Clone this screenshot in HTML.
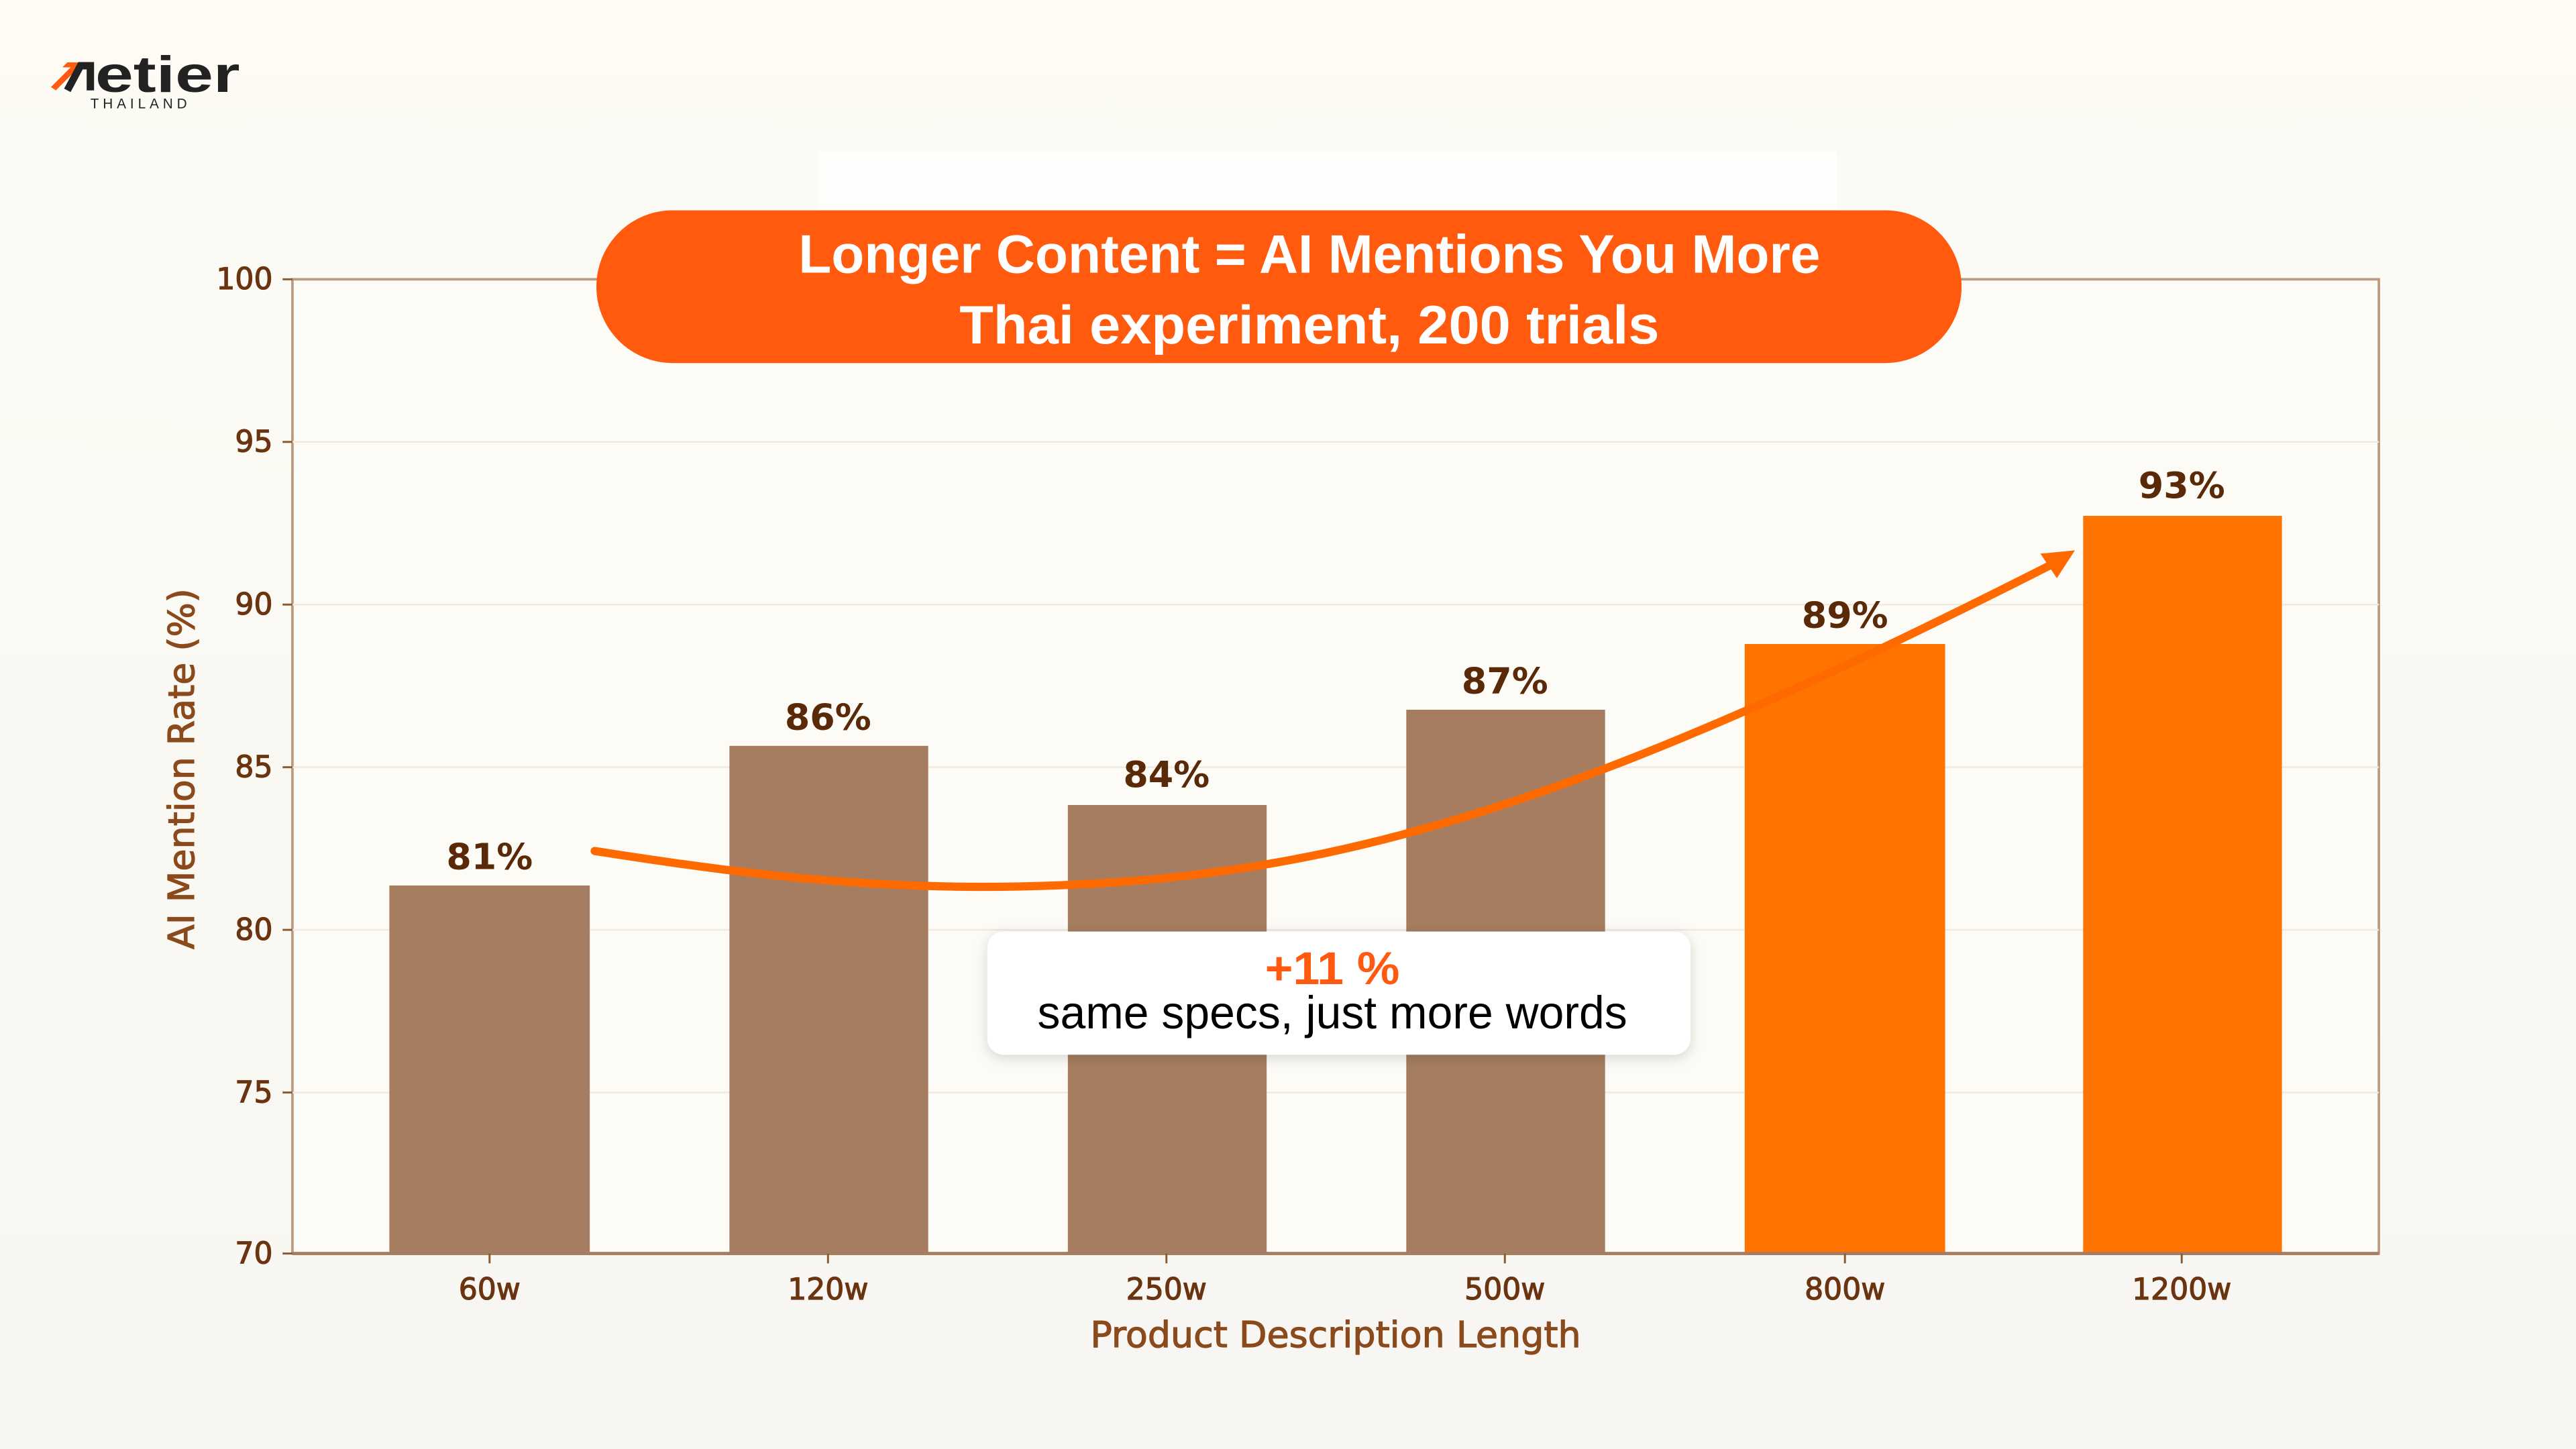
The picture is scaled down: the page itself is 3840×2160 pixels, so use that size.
<!DOCTYPE html>
<html><head><meta charset="utf-8"><style>
html,body{margin:0;padding:0;background:#fcfaf3;}
svg{display:block;}
</style></head><body>
<svg width="3840" height="2160" viewBox="0 0 1568 882" xmlns="http://www.w3.org/2000/svg">
<defs>
<linearGradient id="bg" x1="0" y1="0" x2="0" y2="1"><stop offset="0" stop-color="#fdfbf4"/><stop offset="1" stop-color="#f7f6f2"/></linearGradient>
<filter id="sh" x="-10%" y="-20%" width="120%" height="150%"><feDropShadow dx="0" dy="2" stdDeviation="4" flood-color="#000" flood-opacity="0.15"/></filter>
</defs>
<rect width="1568" height="882" fill="url(#bg)"/>
<!-- logo -->
<polygon points="31,53 43,41 38,41 41,38 48,38 48,45 45,48 45,44 34,55" fill="#ff5a10"/>
<path d="M41,55 L49,40 L55,40 L55,55" fill="none" stroke="#222" stroke-width="4.5"/>
<text x="58" y="56" font-family="Liberation Sans, sans-serif" font-size="31" fill="#222" font-weight="bold" textLength="88" lengthAdjust="spacingAndGlyphs">etier</text>
<text x="55" y="66" font-family="Liberation Sans, sans-serif" font-size="8.5" fill="#222" letter-spacing="2.4">THAILAND</text>
<!-- faint white band -->
<rect x="498" y="92" width="620" height="40" fill="#ffffff" opacity="0.8"/>
<!-- plot -->
<rect x="178" y="170" width="1270" height="593" fill="#fdfbf6" stroke="#b99a80" stroke-width="1.5"/>
<g stroke="#efe9df" stroke-width="1">
<line x1="178" y1="269" x2="1448" y2="269"/><line x1="178" y1="368" x2="1448" y2="368"/>
<line x1="178" y1="467" x2="1448" y2="467"/><line x1="178" y1="566" x2="1448" y2="566"/>
<line x1="178" y1="665" x2="1448" y2="665"/>
</g>
<g fill="#a67d60">
<rect x="237" y="539" width="122" height="224"/>
<rect x="444" y="454" width="121" height="309"/>
<rect x="650" y="490" width="121" height="273"/>
<rect x="856" y="432" width="121" height="331"/>
</g>
<g fill="#ff7300">
<rect x="1062" y="392" width="122" height="371"/>
<rect x="1268" y="314" width="121" height="449"/>
</g>
<line x1="178" y1="763" x2="1448" y2="763" stroke="#a67d60" stroke-width="2"/>
<g stroke="#8b5a30" stroke-width="1.2">
<line x1="172" y1="170" x2="178" y2="170"/><line x1="172" y1="269" x2="178" y2="269"/><line x1="172" y1="368" x2="178" y2="368"/>
<line x1="172" y1="467" x2="178" y2="467"/><line x1="172" y1="566" x2="178" y2="566"/><line x1="172" y1="665" x2="178" y2="665"/><line x1="172" y1="763" x2="178" y2="763"/>
<line x1="298" y1="763" x2="298" y2="769"/><line x1="504" y1="763" x2="504" y2="769"/><line x1="710" y1="763" x2="710" y2="769"/>
<line x1="916" y1="763" x2="916" y2="769"/><line x1="1123" y1="763" x2="1123" y2="769"/><line x1="1328" y1="763" x2="1328" y2="769"/>
</g>
<g font-family="DejaVu Sans, sans-serif" font-size="18" fill="#6b3410" text-anchor="end" stroke="#6b3410" stroke-width="0.5">
<text x="166" y="176">100</text><text x="166" y="275">95</text><text x="166" y="374">90</text>
<text x="166" y="473">85</text><text x="166" y="572">80</text><text x="166" y="671">75</text><text x="166" y="769">70</text>
</g>
<g font-family="DejaVu Sans, sans-serif" font-size="18" fill="#6b3410" text-anchor="middle" stroke="#6b3410" stroke-width="0.5">
<text x="298" y="791">60w</text><text x="504" y="791">120w</text><text x="710" y="791">250w</text>
<text x="916" y="791">500w</text><text x="1123" y="791">800w</text><text x="1328" y="791">1200w</text>
<text x="813" y="820" font-size="22" fill="#8a4a1c" stroke="#8a4a1c">Product Description Length</text>
<text transform="translate(118,468) rotate(-90)" font-size="22" fill="#8a4a1c" stroke="#8a4a1c">AI Mention Rate (%)</text>
</g>
<g font-family="DejaVu Sans, sans-serif" font-size="22" font-weight="bold" fill="#5a2a08" text-anchor="middle">
<text x="298" y="529">81%</text><text x="504" y="444">86%</text><text x="710" y="479">84%</text>
<text x="916" y="422">87%</text><text x="1123" y="382">89%</text><text x="1328" y="303">93%</text>
</g>
<!-- trend -->
<path d="M362,518 C470,535 560,545 680,537 C850,525 1000,470 1250,343" fill="none" stroke="#ff6a00" stroke-width="5" stroke-linecap="round"/>
<polygon points="1263,335 1242,337 1252,352" fill="#ff6a00"/>
<!-- title pill -->
<rect x="363" y="128" width="831" height="93" rx="46.5" fill="#ff5a0d"/>
<g font-family="Liberation Sans, sans-serif" font-size="33" font-weight="bold" fill="#fff" text-anchor="middle">
<text x="797" y="166" textLength="622" lengthAdjust="spacingAndGlyphs">Longer Content = AI Mentions You More</text>
<text x="797" y="209" textLength="426" lengthAdjust="spacingAndGlyphs">Thai experiment, 200 trials</text>
</g>
<!-- annotation -->
<rect x="601" y="567" width="428" height="75" rx="10" fill="#fff" filter="url(#sh)"/>
<text x="811" y="599" font-family="Liberation Sans, sans-serif" font-size="28" font-weight="bold" fill="#ff5a10" text-anchor="middle" textLength="82" lengthAdjust="spacingAndGlyphs">+11 %</text>
<text x="811" y="626" font-family="Liberation Sans, sans-serif" font-size="28" fill="#000" text-anchor="middle" textLength="359" lengthAdjust="spacingAndGlyphs">same specs, just more words</text>
</svg>
</body></html>
